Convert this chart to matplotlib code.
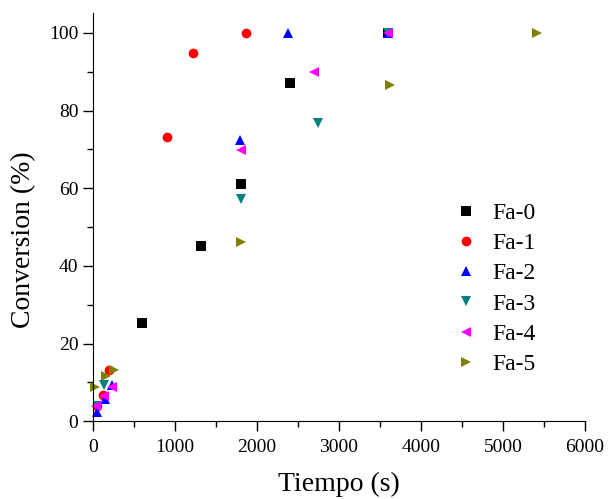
import matplotlib
matplotlib.use('Agg')
import matplotlib.pyplot as plt
from matplotlib.ticker import MultipleLocator

plt.rcParams['font.family'] = ['Liberation Serif', 'DejaVu Serif']

# datos
fa0_t = [600, 1320, 1800, 2400, 3600]
fa0_c = [25.2, 45.2, 61.0, 87.2, 100]
fa1_t = [45, 125, 195, 900, 1220, 1860]
fa1_c = [4.0, 6.8, 13.1, 73.3, 94.8, 100]
fa2_t = [45, 145, 230, 1790, 2380, 3600]
fa2_c = [2.4, 5.6, 9.3, 72.4, 100, 100]
fa3_t = [60, 135, 1810, 2740, 3600]
fa3_c = [4.0, 9.3, 57.2, 76.9, 100]
fa4_t = [40, 130, 230, 1810, 2700, 3600]
fa4_c = [3.8, 6.5, 8.8, 69.8, 90.0, 100]
fa5_t = [25, 160, 250, 1810, 3620, 5410]
fa5_c = [8.8, 11.7, 13.3, 46.2, 86.6, 100]

series = [
    ('Fa-0', fa0_t, fa0_c, 's', '#000000'),
    ('Fa-1', fa1_t, fa1_c, 'o', '#ff0000'),
    ('Fa-2', fa2_t, fa2_c, '^', '#0000ff'),
    ('Fa-3', fa3_t, fa3_c, 'v', '#008080'),
    ('Fa-4', fa4_t, fa4_c, '<', '#ff00ff'),
    ('Fa-5', fa5_t, fa5_c, '>', '#808000'),
]

fig = plt.figure(figsize=(6.08, 4.99), dpi=100)
ax = fig.add_axes([0.153, 0.156, 0.809, 0.817])

for name, t, c, m, col in series:
    ax.plot(t, c, linestyle='none', marker=m, color=col, markersize=7,
            markeredgewidth=0, label=name, clip_on=False)

ax.set_xlim(0, 6000)
ax.set_ylim(0, 105)
ax.xaxis.set_major_locator(MultipleLocator(1000))
ax.xaxis.set_minor_locator(MultipleLocator(500))
ax.yaxis.set_major_locator(MultipleLocator(20))
ax.yaxis.set_minor_locator(MultipleLocator(10))
ax.tick_params(which='major', direction='out', length=7, width=1, labelsize=14)
ax.tick_params(axis='x', which='major', pad=5.5)
ax.tick_params(which='minor', direction='out', length=4, width=1)
for s in ['top', 'right']:
    ax.spines[s].set_visible(False)

ax.set_xlabel('Tiempo (s)', fontsize=20, labelpad=12)
ax.set_ylabel('Conversion (%)', fontsize=20)
ax.yaxis.set_label_coords(-0.115, 0.444)

ax.legend(loc='upper left', bbox_to_anchor=(0.716, 0.56), frameon=False,
          fontsize=17, handletextpad=0.6, labelspacing=0.37, handlelength=1.0,
          borderaxespad=0)

plt.savefig('out.png', dpi=100)
